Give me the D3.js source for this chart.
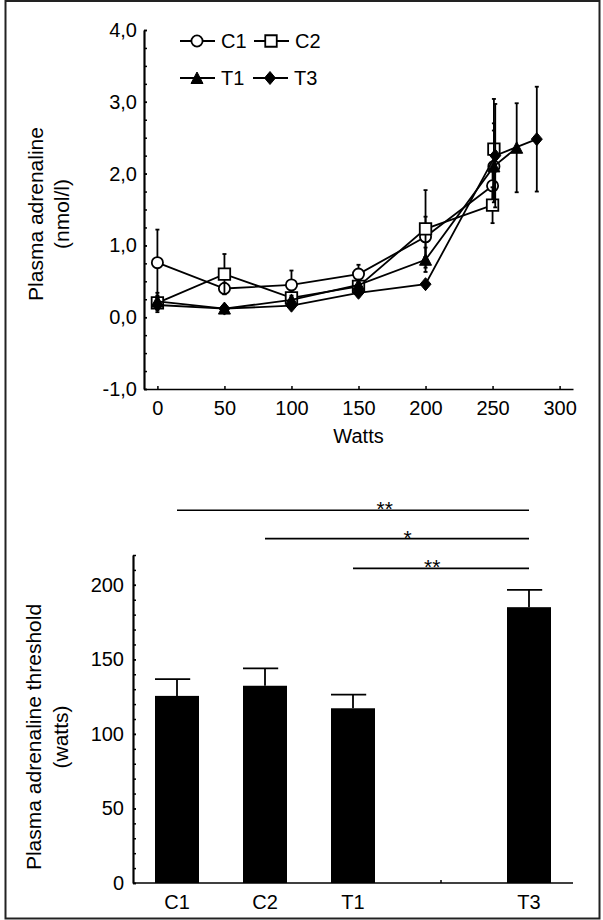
<!DOCTYPE html>
<html><head><meta charset="utf-8">
<script src="https://cdn.jsdelivr.net/npm/d3@7"></script>
<style>
html,body{margin:0;padding:0;background:#fff;}
svg{display:block;font-family:"Liberation Sans",Arial,sans-serif;}
</style></head>
<body>
<svg id="chart" width="603" height="920"></svg>
<script>
// ---------- data (top: plasma adrenaline vs watts) ----------
const c1Watts = [0, 50, 100, 150, 200, 250, 251];
const c1Mean  = [0.76, 0.40, 0.45, 0.60, 1.12, 1.83, 2.10];
const c1Err   = [0.46, 0.08, 0.20, 0.13, 0.28, 0.30, 0.60];

const c2Watts = [0, 50, 100, 150, 200, 250, 251];
const c2Mean  = [0.20, 0.60, 0.27, 0.43, 1.23, 1.56, 2.34];
const c2Err   = [0.08, 0.28, 0.08, 0.06, 0.54, 0.25, 0.70];

const t1Watts = [0, 50, 100, 150, 200, 251, 268];
const t1Mean  = [0.22, 0.12, 0.24, 0.45, 0.80, 2.10, 2.36];
const t1Err   = [0.12, 0.03, 0.06, 0.06, 0.17, 0.50, 0.62];

const t3Watts = [0, 50, 100, 150, 200, 252, 283];
const t3Mean  = [0.17, 0.12, 0.16, 0.34, 0.46, 2.25, 2.48];
const t3Err   = [0.10, 0.03, 0.04, 0.05, 0.04, 0.72, 0.73];

const seriesNames = ["C1", "C2", "T1", "T3"];
const xTicksTop = [0, 50, 100, 150, 200, 250, 300];
const yTicksTop = [-1, 0, 1, 2, 3, 4];

// ---------- data (bottom: threshold bars) ----------
const categories = ["C1", "C2", "T1", " ", "T3"];
const thresholdMean = [125.5, 132.3, 117.2, null, 185.0];
const thresholdErr  = [11.2, 11.7, 9.1, null, 11.6];
const yTicksBottom = [0, 50, 100, 150, 200];

const sigFrom  = ["C1", "C2", "T1"];
const sigTo    = ["T3", "T3", "T3"];
const sigLabel = ["**", "*", "**"];
const sigLevel = [250, 231, 211];
const sigLabelAt = [0.59, 0.54, 0.45];

// ---------- helpers ----------
const loc = d3.formatLocale({decimal: ",", thousands: ".", grouping: [3], currency: ["", ""], minus: "-"});
const fmtTop = loc.format(".1f");
const svg = d3.select("#chart");
const FONT = 20;

// frame
svg.append("rect").attr("x", 5.5).attr("y", 1).attr("width", 594).attr("height", 917.5)
  .attr("fill", "none").attr("stroke", "#222").attr("stroke-width", 2);

// ================= TOP CHART =================
const x = d3.scaleLinear().domain([-10, 310]).range([144, 573]);
const y = d3.scaleLinear().domain([-1, 4]).range([389, 30]);

function styleAxis(g) {
  g.select(".domain").attr("stroke", "#000").attr("stroke-width", 1.7);
  g.selectAll(".tick line").attr("stroke", "#000").attr("stroke-width", 1.5);
  g.selectAll(".tick text").attr("fill", "#000").style("font-size", FONT + "px")
    .style("font-family", '"Liberation Sans", Arial, sans-serif');
}

const gyMinor = svg.append("g").attr("transform", `translate(${x(-10)},0)`)
  .call(d3.axisLeft(y).tickValues(d3.range(-1, 4.001, 0.25)).tickSize(-3).tickFormat("").tickSizeOuter(0));
styleAxis(gyMinor);
const gy = svg.append("g").attr("transform", `translate(${x(-10)},0)`)
  .call(d3.axisLeft(y).tickValues(yTicksTop).tickSize(-3).tickPadding(7).tickFormat(fmtTop).tickSizeOuter(0));
styleAxis(gy);

const gx = svg.append("g").attr("transform", `translate(0,${y(-1)})`)
  .call(d3.axisBottom(x).tickValues(xTicksTop).tickSize(-3).tickPadding(12).tickSizeOuter(0));
styleAxis(gx);
gx.selectAll(".tick text").attr("dy", "0.71em");

svg.append("text").attr("x", (x(-10) + x(310)) / 2).attr("y", 443)
  .attr("text-anchor", "middle").style("font-size", FONT + "px").text("Watts");

const ytTop = svg.append("text").attr("transform", `rotate(-90)`)
  .attr("text-anchor", "middle").style("font-size", "21px");
ytTop.append("tspan").attr("x", -214).attr("y", 43).text("Plasma adrenaline");
ytTop.append("tspan").attr("x", -214).attr("y", 69).text("(nmol/l)");

function markerPath(name, s) {
  const h = s / 2;
  if (name === "C2") return `M${-h},${-h}H${h}V${h}H${-h}Z`;
  if (name === "T1") return `M0,${-h - 0.5}L${h + 0.5},${h}L${-h - 0.5},${h}Z`;
  if (name === "T3") return `M0,${-h - 1}L${h},0L0,${h + 1}L${-h},0Z`;
  return null;
}
function drawMarker(g, name, cx, cy) {
  if (name === "C1") {
    g.append("circle").attr("cx", cx).attr("cy", cy).attr("r", 5.6)
      .attr("fill", "#fff").attr("stroke", "#000").attr("stroke-width", 1.8);
  } else if (name === "C2") {
    g.append("path").attr("d", markerPath(name, 11.5)).attr("transform", `translate(${cx},${cy})`)
      .attr("fill", "#fff").attr("stroke", "#000").attr("stroke-width", 1.8);
  } else {
    g.append("path").attr("d", markerPath(name, 11)).attr("transform", `translate(${cx},${cy})`)
      .attr("fill", "#000").attr("stroke", "#000").attr("stroke-width", 1);
  }
}

const seriesData = [
  {name: "C1", w: c1Watts, m: c1Mean, e: c1Err},
  {name: "C2", w: c2Watts, m: c2Mean, e: c2Err},
  {name: "T1", w: t1Watts, m: t1Mean, e: t1Err},
  {name: "T3", w: t3Watts, m: t3Mean, e: t3Err}
];
const line = d3.line().x(d => x(d[0])).y(d => y(d[1]));
const plot = svg.append("g");

seriesData.forEach(s => {
  const g = plot.append("g");
  const pts = s.w.map((w, i) => [w, s.m[i], s.e[i]]);
  pts.forEach(p => {
    g.append("line").attr("x1", x(p[0])).attr("x2", x(p[0]))
      .attr("y1", y(p[1] - p[2])).attr("y2", y(p[1] + p[2]))
      .attr("stroke", "#000").attr("stroke-width", 1.8);
    [p[1] - p[2], p[1] + p[2]].forEach(v => {
      g.append("line").attr("x1", x(p[0]) - 2).attr("x2", x(p[0]) + 2)
        .attr("y1", y(v)).attr("y2", y(v)).attr("stroke", "#000").attr("stroke-width", 1.8);
    });
  });
  g.append("path").datum(pts).attr("d", line).attr("fill", "none")
    .attr("stroke", "#000").attr("stroke-width", 1.8);
  pts.forEach(p => drawMarker(g, s.name, x(p[0]), y(p[1])));
});

// legend
const legendPos = [[197, 41], [271, 41], [197, 78], [270, 78]];
seriesNames.forEach((n, i) => {
  const [cx, cy] = legendPos[i];
  const g = svg.append("g");
  g.append("line").attr("x1", cx - 17).attr("x2", cx + 18).attr("y1", cy).attr("y2", cy)
    .attr("stroke", "#000").attr("stroke-width", 1.8);
  drawMarker(g, n, cx, cy);
  g.append("text").attr("x", cx + 24).attr("y", cy + 7).style("font-size", FONT + "px").text(n);
});

// ================= BOTTOM CHART =================
const xb = d3.scaleBand().domain(categories).range([133, 573]).paddingInner(0.5).paddingOuter(0.25);
const yb = d3.scaleLinear().domain([0, 220]).range([883, 555]);

const gybMinor = svg.append("g").attr("transform", `translate(133,0)`)
  .call(d3.axisLeft(yb).tickValues(d3.range(0, 220.001, 10)).tickSize(-3).tickFormat("").tickSizeOuter(0));
styleAxis(gybMinor);
const gyb = svg.append("g").attr("transform", `translate(133,0)`)
  .call(d3.axisLeft(yb).tickValues(yTicksBottom).tickSize(-3).tickPadding(9).tickSizeOuter(0));
styleAxis(gyb);

const bars = svg.append("g");
categories.forEach((c, i) => {
  const v = thresholdMean[i];
  if (v == null) return;
  const bx = xb(c), bw = xb.bandwidth();
  const e = thresholdErr[i];
  bars.append("line").attr("x1", bx + bw / 2).attr("x2", bx + bw / 2)
    .attr("y1", yb(v)).attr("y2", yb(v + e)).attr("stroke", "#000").attr("stroke-width", 1.8);
  bars.append("line").attr("x1", bx).attr("x2", bx + bw * 0.8)
    .attr("y1", yb(v + e)).attr("y2", yb(v + e)).attr("stroke", "#000").attr("stroke-width", 1.8);
  bars.append("rect").attr("x", bx).attr("y", yb(v)).attr("width", bw)
    .attr("height", yb(0) - yb(v)).attr("fill", "#000");
});

const gxb = svg.append("g").attr("transform", `translate(0,${yb(0)})`)
  .call(d3.axisBottom(xb).tickSize(-3).tickPadding(12).tickSizeOuter(0));
styleAxis(gxb);
gxb.select(".domain").attr("d", `M133,0H573`);
gxb.selectAll(".tick text").attr("dy", "0.71em");

const ytBot = svg.append("text").attr("transform", `rotate(-90)`)
  .attr("text-anchor", "middle").style("font-size", "21px");
ytBot.append("tspan").attr("x", -737).attr("y", 41).text("Plasma adrenaline threshold");
ytBot.append("tspan").attr("x", -737).attr("y", 68).text("(watts)");

// significance brackets
sigFrom.forEach((f, i) => {
  const x1 = xb(f) + xb.bandwidth() / 2;
  const x2 = xb(sigTo[i]) + xb.bandwidth() / 2;
  const yy = yb(sigLevel[i]);
  svg.append("line").attr("x1", x1).attr("x2", x2).attr("y1", yy).attr("y2", yy)
    .attr("stroke", "#000").attr("stroke-width", 1.6);
  svg.append("text").attr("x", x1 + (x2 - x1) * sigLabelAt[i]).attr("y", yy + 6)
    .attr("text-anchor", "middle").attr("fill", "#000").style("font-size", "21px").text(sigLabel[i]);
});
</script>
</body></html>
